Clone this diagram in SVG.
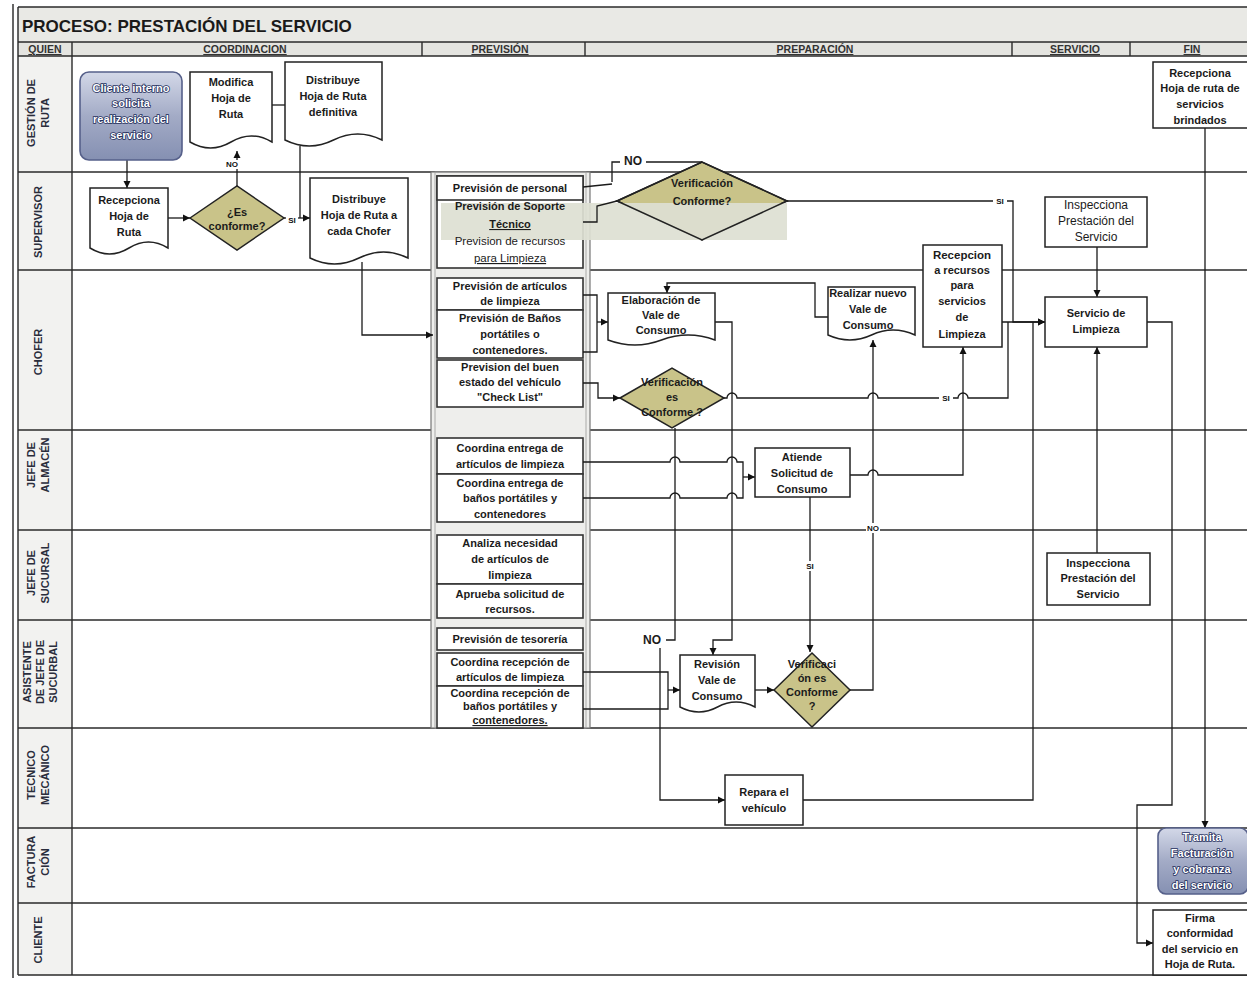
<svg xmlns="http://www.w3.org/2000/svg" width="1247" height="982" viewBox="0 0 1247 982">
<defs>
<marker id="arr" markerWidth="8" markerHeight="8" refX="7" refY="4" orient="auto" markerUnits="userSpaceOnUse"><path d="M0,0.5 L7,4 L0,7.5 z" fill="#111"/></marker>
<linearGradient id="blue" x1="0" y1="0" x2="0" y2="1"><stop offset="0" stop-color="#d3d8e8"/><stop offset="0.5" stop-color="#a3abc6"/><stop offset="1" stop-color="#8590b2"/></linearGradient>
<style>
.t{font-family:"Liberation Sans",Arial,sans-serif;font-weight:bold;font-size:11px;fill:#1b1b1b;text-anchor:middle}
.tr{font-family:"Liberation Sans",Arial,sans-serif;font-size:12px;fill:#1b1b1b;text-anchor:middle}
.tw{font-family:"Liberation Sans",Arial,sans-serif;font-weight:bold;font-size:11px;fill:#fff;stroke:#26305e;stroke-width:1.6;paint-order:stroke;text-anchor:middle}
.lab{font-family:"Liberation Sans",Arial,sans-serif;font-weight:bold;font-size:11px;fill:#2a2d3c;text-anchor:middle}
.hd{font-family:"Liberation Sans",Arial,sans-serif;font-weight:bold;font-size:10.5px;fill:#333;text-anchor:middle;text-decoration:underline}
.sm{font-family:"Liberation Sans",Arial,sans-serif;font-weight:bold;font-size:8px;fill:#111;text-anchor:middle}
.box{fill:#fff;stroke:#222;stroke-width:1.5}
.pbox{fill:#fff;stroke:#333;stroke-width:1.6}
.dia{fill:#c9c389;stroke:#222;stroke-width:1.5}
.rnd{fill:url(#blue);stroke:#56608a;stroke-width:1.6}
.lane{stroke:#2a2a2a;stroke-width:1.4;fill:none}
.c{fill:none;stroke:#1a1a1a;stroke-width:1.3}
.ca{fill:none;stroke:#1a1a1a;stroke-width:1.3;marker-end:url(#arr)}
</style>
</defs>
<rect x="0" y="0" width="1247" height="982" fill="#fff"/>
<g id="frame">
<rect x="18" y="7" width="1229" height="35" fill="#e9e9e5"/>
<rect x="18" y="42" width="1229" height="14" fill="#e4e4e0"/>
<rect x="18" y="56" width="54" height="919" fill="#f2f2f0"/>
<line x1="13" y1="4" x2="13" y2="978" stroke="#333" stroke-width="1.5"/>
<line x1="18" y1="7" x2="18" y2="975" stroke="#333" stroke-width="1.5"/>
<line class="lane" x1="18" y1="7" x2="1247" y2="7"/>
<line class="lane" x1="18" y1="42" x2="1247" y2="42"/>
<line class="lane" x1="18" y1="56" x2="1247" y2="56"/>
<line class="lane" x1="18" y1="172" x2="1247" y2="172"/>
<line class="lane" x1="18" y1="270" x2="1247" y2="270"/>
<line class="lane" x1="18" y1="430" x2="1247" y2="430"/>
<line class="lane" x1="18" y1="530" x2="1247" y2="530"/>
<line class="lane" x1="18" y1="620" x2="1247" y2="620"/>
<line class="lane" x1="18" y1="728" x2="1247" y2="728"/>
<line class="lane" x1="18" y1="828" x2="1247" y2="828"/>
<line class="lane" x1="18" y1="903" x2="1247" y2="903"/>
<line class="lane" x1="18" y1="975" x2="1247" y2="975"/>
<line class="lane" x1="72" y1="42" x2="72" y2="975"/>
<line class="lane" x1="422" y1="42" x2="422" y2="56"/>
<line class="lane" x1="585" y1="42" x2="585" y2="56"/>
<line class="lane" x1="1012" y1="42" x2="1012" y2="56"/>
<line class="lane" x1="1130" y1="42" x2="1130" y2="56"/>
<text x="22" y="32" style="font-family:'Liberation Sans',Arial,sans-serif;font-weight:bold;font-size:17px;fill:#1a1a1a">PROCESO: PRESTACIÓN DEL SERVICIO</text>
<text class="hd" x="45" y="53">QUIEN</text>
<text class="hd" x="245" y="53">COORDINACION</text>
<text class="hd" x="500" y="53">PREVISIÓN</text>
<text class="hd" x="815" y="53">PREPARACIÓN</text>
<text class="hd" x="1075" y="53">SERVICIO</text>
<text class="hd" x="1192" y="53">FIN</text>
</g>
<g id="lanes">
<g transform="translate(38,113) rotate(-90)"><text class="lab" x="0" y="-3">GESTIÓN DE</text><text class="lab" x="0" y="11">RUTA</text></g>
<g transform="translate(38,222) rotate(-90)"><text class="lab" x="0" y="4">SUPERVISOR</text></g>
<g transform="translate(38,352) rotate(-90)"><text class="lab" x="0" y="4">CHOFER</text></g>
<g transform="translate(38,465) rotate(-90)"><text class="lab" x="0" y="-3">JEFE DE</text><text class="lab" x="0" y="11">ALMACÉN</text></g>
<g transform="translate(38,573) rotate(-90)"><text class="lab" x="0" y="-3">JEFE DE</text><text class="lab" x="0" y="11">SUCURSAL</text></g>
<g transform="translate(40,672) rotate(-90)"><text class="lab" x="0" y="-9">ASISTENTE</text><text class="lab" x="0" y="4">DE JEFE DE</text><text class="lab" x="0" y="17">SUCURBAL</text></g>
<g transform="translate(38,775) rotate(-90)"><text class="lab" x="0" y="-3">TECNICO</text><text class="lab" x="0" y="11">MECÁNICO</text></g>
<g transform="translate(38,862) rotate(-90)"><text class="lab" x="0" y="-3">FACTURA</text><text class="lab" x="0" y="11">CIÓN</text></g>
<g transform="translate(38,940) rotate(-90)"><text class="lab" x="0" y="4">CLIENTE</text></g>
</g>
<g id="prevision">
<rect x="431" y="172" width="159" height="556" fill="#eeeeec" stroke="#777" stroke-width="1.2"/>
<rect x="435" y="172" width="151" height="556" fill="none" stroke="#999" stroke-width="0.8"/>
<rect class="pbox" x="437" y="176" width="146" height="92"/>
<rect class="pbox" x="437" y="176" width="146" height="24"/>
<text class="t" x="510" y="192">Previsión de personal</text>
<rect class="pbox" x="437" y="278" width="146" height="32"/>
<text class="t" x="510" y="290">Previsión de artículos</text>
<text class="t" x="510" y="305">de limpieza</text>
<rect class="pbox" x="437" y="310" width="146" height="48"/>
<text class="t" x="510" y="322">Previsión de Baños</text>
<text class="t" x="510" y="338">portátiles o</text>
<text class="t" x="510" y="354">contenedores.</text>
<rect class="pbox" x="437" y="360" width="146" height="47"/>
<text class="t" x="510" y="371">Prevision del buen</text>
<text class="t" x="510" y="386">estado del vehículo</text>
<text class="t" x="510" y="401">"Check List"</text>
<rect class="pbox" x="437" y="438" width="146" height="36"/>
<text class="t" x="510" y="452">Coordina entrega de</text>
<text class="t" x="510" y="468">artículos de limpieza</text>
<rect class="pbox" x="437" y="474" width="146" height="48"/>
<text class="t" x="510" y="487">Coordina entrega de</text>
<text class="t" x="510" y="502">baños portátiles y</text>
<text class="t" x="510" y="518">contenedores</text>
<rect class="pbox" x="437" y="535" width="146" height="49"/>
<text class="t" x="510" y="547">Analiza necesidad</text>
<text class="t" x="510" y="563">de artículos de</text>
<text class="t" x="510" y="579">limpieza</text>
<rect class="pbox" x="437" y="584" width="146" height="34"/>
<text class="t" x="510" y="598">Aprueba solicitud de</text>
<text class="t" x="510" y="613">recursos.</text>
<rect class="pbox" x="437" y="628" width="146" height="22"/>
<text class="t" x="510" y="643">Previsión de tesorería</text>
<rect class="pbox" x="437" y="653" width="146" height="33"/>
<text class="t" x="510" y="666">Coordina recepción de</text>
<text class="t" x="510" y="681">artículos de limpieza</text>
<rect class="pbox" x="437" y="686" width="146" height="42"/>
<text class="t" x="510" y="697">Coordina recepción de</text>
<text class="t" x="510" y="710">baños portátiles y</text>
<text class="t" x="510" y="724" style="text-decoration:underline">contenedores.</text>
</g>
<g id="n-verificacion-sup">
<polygon class="dia" points="617,201 702,162 787,201 702,240"/>
<rect x="441" y="203" width="346" height="37" fill="#dde0d3" opacity="0.92"/>
<polygon points="617,201 702,162 787,201 702,240" fill="none" stroke="#222" stroke-width="1.5"/>
<text class="t" x="702" y="187">Verificación</text>
<text class="t" x="702" y="205">Conforme?</text>
<text class="t" x="510" y="210">Previsión de Soporte</text>
<text class="t" x="510" y="228" style="text-decoration:underline">Técnico</text>
<text class="tr" x="510" y="245" style="font-size:11.5px">Prevision de recursos</text>
<text class="tr" x="510" y="262" style="font-size:11.5px;text-decoration:underline">para Limpieza</text>
</g>
<g id="connectors">
<path class="ca" d="M127,160 V188"/>
<path class="ca" d="M168,218 H190"/>
<path class="ca" d="M237,186 V151"/>
<path class="c" d="M272,105 H285"/>
<path class="c" d="M300,146 V218"/>
<path class="ca" d="M284,218 H310"/>
<path class="ca" d="M362,262 V335 H433"/>
<path class="c" d="M583,187 L612,184"/>
<path class="c" d="M702,162 H612 V182"/>
<path class="c" d="M583,222 H597 V206 L617,201"/>
<path class="ca" d="M787,201 H1013 V322 H1045"/>
<path class="c" d="M583,295 H597 V352 H583"/>
<path class="ca" d="M597,322 H608"/>
<path class="ca" d="M583,383 H598 V398 H620"/>
<path class="c" d="M724,398 H727 a5,5 0 0 1 10,0 H868 a5,5 0 0 1 10,0 H958 a5,5 0 0 1 10,0 H1008 V322"/>
<path class="ca" d="M828,317 H815 V283 H667 V293"/>
<path class="ca" d="M715,322 H732 V640 H713 V655"/>
<path class="c" d="M675,428 V640 H666"/>
<path class="ca" d="M660,648 V800 H725"/>
<path class="c" d="M583,462 H670 a5,5 0 0 1 10,0 H727 a5,5 0 0 1 10,0 H743 V478"/>
<path class="c" d="M583,498 H670 a5,5 0 0 1 10,0 H727 a5,5 0 0 1 10,0 H743 V478"/>
<path class="ca" d="M743,477 H755"/>
<path class="ca" d="M810,497 V652"/>
<path class="ca" d="M850,475 H868 a5,5 0 0 1 10,0 H963 V347"/>
<path class="c" d="M583,672 H668 V709 H583"/>
<path class="ca" d="M668,690 H680"/>
<path class="ca" d="M755,690 H774"/>
<path class="ca" d="M850,690 H873 V340"/>
<path class="c" d="M803,800 H1033 V322"/>
<path class="ca" d="M1002,322 H1045"/>
<path class="ca" d="M1097,247 V297"/>
<path class="ca" d="M1097,553 V347"/>
<path class="ca" d="M1147,322 H1172 V805 H1137 V943 H1153"/>
<path class="ca" d="M1205,128 V828"/>
<rect x="224" y="160" width="16" height="9" fill="#fff"/><text class="sm" x="232" y="167">NO</text>
<rect x="286" y="216" width="12" height="9" fill="#fff"/><text class="sm" x="292" y="223">SI</text>
<rect x="620" y="153" width="26" height="14" fill="#fff"/><text class="t" x="633" y="165" style="font-size:12px">NO</text>
<rect x="993" y="196" width="14" height="9" fill="#fff"/><text class="sm" x="1000" y="204">SI</text>
<rect x="939" y="394" width="14" height="9" fill="#fff"/><text class="sm" x="946" y="401">SI</text>
<rect x="804" y="561" width="12" height="10" fill="#fff"/><text class="sm" x="810" y="569">SI</text>
<rect x="866" y="523" width="14" height="10" fill="#fff"/><text class="sm" x="873" y="531">NO</text>
<text class="t" x="652" y="644" style="font-size:12px">NO</text>
</g>
<g id="n-cliente">
<rect class="rnd" x="80" y="72" width="102" height="88" rx="9"/>
<text class="tw" x="131" y="92">Cliente interno</text>
<text class="tw" x="131" y="107">solicita</text>
<text class="tw" x="131" y="123">realización del</text>
<text class="tw" x="131" y="139">servicio</text>
</g>
<g id="n-modifica">
<path class="box" d="M190,72 H272 V142 Q251.5,130 231,142 T190,142 Z"/>
<text class="t" x="231" y="86">Modifica</text>
<text class="t" x="231" y="102">Hoja de</text>
<text class="t" x="231" y="118">Ruta</text>
</g>
<g id="n-distribuye-def">
<path class="box" d="M285,62 H382 V140 Q357.75,128 333.5,140 T285,140 Z"/>
<text class="t" x="333" y="84">Distribuye</text>
<text class="t" x="333" y="100">Hoja de Ruta</text>
<text class="t" x="333" y="116">definitiva</text>
</g>
<g id="n-recepciona">
<path class="box" d="M90,188 H168 V248 Q148.5,236 129,248 T90,248 Z"/>
<text class="t" x="129" y="204">Recepciona</text>
<text class="t" x="129" y="220">Hoja de</text>
<text class="t" x="129" y="236">Ruta</text>
</g>
<g id="n-esconforme">
<polygon class="dia" points="190,218 237,186 284,218 237,250"/>
<text class="t" x="237" y="216">¿Es</text>
<text class="t" x="237" y="230">conforme?</text>
</g>
<g id="n-distribuye-chofer">
<path class="box" d="M310,178 H408 V258 Q383.5,246 359,258 T310,258 Z"/>
<text class="t" x="359" y="203">Distribuye</text>
<text class="t" x="359" y="219">Hoja de Ruta a</text>
<text class="t" x="359" y="235">cada Chofer</text>
</g>
<g id="n-elaboracion">
<path class="box" d="M608,293 H715 V340 Q688,330 661.5,340 T608,340 Z"/>
<text class="t" x="661" y="304">Elaboración de</text>
<text class="t" x="661" y="319">Vale de</text>
<text class="t" x="661" y="334">Consumo</text>
</g>
<g id="n-realizar">
<path class="box" d="M828,287 H915 V335 Q893,325 871.5,335 T828,335 Z"/>
<text class="t" x="868" y="297">Realizar nuevo</text>
<text class="t" x="868" y="313">Vale de</text>
<text class="t" x="868" y="329">Consumo</text>
</g>
<g id="n-recepcion-recursos">
<rect class="box" x="923" y="245" width="79" height="102"/>
<text class="t" x="962" y="259" style="font-size:11.5px">Recepcion</text>
<text class="t" x="962" y="274">a recursos</text>
<text class="t" x="962" y="289">para</text>
<text class="t" x="962" y="305">servicios</text>
<text class="t" x="962" y="321">de</text>
<text class="t" x="962" y="338">Limpieza</text>
</g>
<g id="n-verif-chofer">
<polygon class="dia" points="620,398 672,368 724,398 672,428"/>
<text class="t" x="672" y="386">Verificación</text>
<text class="t" x="672" y="401">es</text>
<text class="t" x="672" y="416">Conforme ?</text>
</g>
<g id="n-inspecciona-sup">
<rect class="box" x="1045" y="197" width="102" height="50"/>
<text class="tr" x="1096" y="209">Inspecciona</text>
<text class="tr" x="1096" y="225">Prestación del</text>
<text class="tr" x="1096" y="241">Servicio</text>
</g>
<g id="n-servicio">
<rect class="box" x="1045" y="297" width="102" height="50"/>
<text class="t" x="1096" y="317">Servicio de</text>
<text class="t" x="1096" y="333">Limpieza</text>
</g>
<g id="n-atiende">
<rect class="box" x="755" y="448" width="95" height="49"/>
<text class="t" x="802" y="461">Atiende</text>
<text class="t" x="802" y="477">Solicitud de</text>
<text class="t" x="802" y="493">Consumo</text>
</g>
<g id="n-inspecciona-suc">
<rect class="box" x="1047" y="553" width="103" height="52"/>
<text class="t" x="1098" y="567">Inspecciona</text>
<text class="t" x="1098" y="582">Prestación del</text>
<text class="t" x="1098" y="598">Servicio</text>
</g>
<g id="n-revision">
<path class="box" d="M680,655 H755 V707 Q736,697 717.5,707 T680,707 Z"/>
<text class="t" x="717" y="668">Revisión</text>
<text class="t" x="717" y="684">Vale de</text>
<text class="t" x="717" y="700">Consumo</text>
</g>
<g id="n-verif-asist">
<polygon class="dia" points="774,690 812,653 850,690 812,727"/>
<text class="t" x="812" y="668">Verificaci</text>
<text class="t" x="812" y="682">ón es</text>
<text class="t" x="812" y="696">Conforme</text>
<text class="t" x="812" y="710">?</text>
</g>
<g id="n-repara">
<rect class="box" x="725" y="775" width="78" height="50"/>
<text class="t" x="764" y="796">Repara el</text>
<text class="t" x="764" y="812">vehículo</text>
</g>
<g id="n-recepciona-fin">
<rect class="box" x="1153" y="62" width="100" height="66"/>
<text class="t" x="1200" y="77">Recepciona</text>
<text class="t" x="1200" y="92">Hoja de ruta de</text>
<text class="t" x="1200" y="108">servicios</text>
<text class="t" x="1200" y="124">brindados</text>
</g>
<g id="n-tramita">
<rect class="rnd" x="1158" y="828" width="90" height="66" rx="8"/>
<text class="tw" x="1202" y="841">Tramita</text>
<text class="tw" x="1202" y="857">Facturación</text>
<text class="tw" x="1202" y="873">y cobranza</text>
<text class="tw" x="1202" y="889">del servicio</text>
</g>
<g id="n-firma">
<rect class="box" x="1153" y="910" width="100" height="65"/>
<text class="t" x="1200" y="922">Firma</text>
<text class="t" x="1200" y="937">conformidad</text>
<text class="t" x="1200" y="953">del servicio en</text>
<text class="t" x="1200" y="968">Hoja de Ruta.</text>
</g>
</svg>
